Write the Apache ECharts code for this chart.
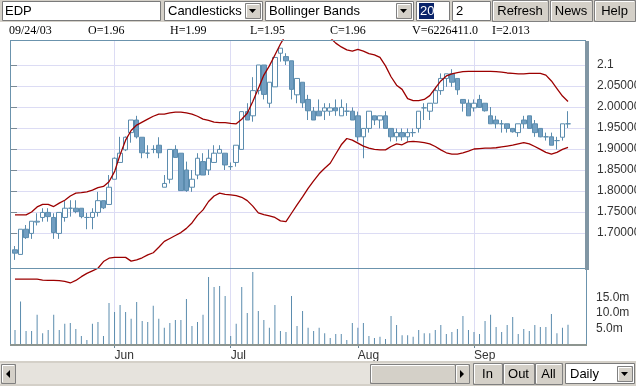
<!DOCTYPE html>
<html><head><meta charset="utf-8">
<script src="https://cdn.jsdelivr.net/npm/echarts@6/dist/echarts.min.js"></script>
<style>html,body{margin:0;padding:0;background:#fff}#c{width:636px;height:386px}</style>
</head><body><div id="c"></div>
<script>
// ---- data ----
const firstDay = '2003-05-07', lastDay = '2003-09-24';
const monthNames = ['Jan','Feb','Mar','Apr','May','Jun','Jul','Aug','Sep','Oct','Nov','Dec'];
const open = [1.660,1.649,1.709,1.699,1.726,1.737,1.749,1.737,1.699,1.737,
  1.759,1.759,1.759,1.737,1.737,1.749,1.777,1.768,1.828,1.868,
  1.898,1.939,1.969,1.928,1.890,1.899,1.909,1.809,1.828,1.899,
  1.890,1.850,1.809,1.838,1.870,1.850,1.868,1.890,1.890,1.858,
  1.868,1.899,1.989,1.979,2.039,2.100,2.009,2.048,2.128,2.120,
  2.110,2.029,2.059,2.018,1.990,1.990,1.990,1.990,1.998,1.979,
  1.990,1.990,1.979,1.929,1.949,1.979,1.969,1.979,1.949,1.929,
  1.939,1.929,1.939,1.949,1.998,1.990,2.009,2.039,2.068,2.079,
  2.068,2.018,2.009,1.998,2.018,2.009,1.979,1.969,1.960,1.960,
  1.949,1.939,1.969,1.979,1.960,1.949,1.929,1.929,1.920,1.928,
  1.960];
const high = [1.669,1.709,1.719,1.728,1.747,1.759,1.759,1.747,1.749,1.776,
  1.778,1.778,1.759,1.748,1.759,1.798,1.777,1.838,1.880,1.929,
  1.930,1.969,1.979,1.928,1.909,1.909,1.928,1.838,1.899,1.909,
  1.890,1.870,1.850,1.890,1.890,1.899,1.909,1.909,1.890,1.868,
  1.909,1.989,2.009,2.071,2.100,2.100,2.059,2.118,2.140,2.128,
  2.110,2.068,2.059,2.029,2.000,2.018,2.009,2.009,2.018,2.018,
  2.009,1.999,1.989,1.949,1.990,1.979,1.979,1.990,1.949,1.949,
  1.949,1.949,1.949,1.990,2.009,2.009,2.048,2.080,2.079,2.090,
  2.068,2.018,2.018,2.018,2.029,2.009,2.000,1.979,1.969,1.960,
  1.949,1.960,1.979,1.979,1.969,1.949,1.939,1.939,1.929,1.960,
  1.990];
const low = [1.636,1.649,1.686,1.686,1.718,1.727,1.727,1.686,1.686,1.727,
  1.739,1.747,1.735,1.709,1.709,1.739,1.757,1.768,1.828,1.868,
  1.895,1.915,1.925,1.878,1.878,1.890,1.878,1.809,1.818,1.880,
  1.801,1.798,1.798,1.828,1.838,1.838,1.868,1.890,1.850,1.850,
  1.858,1.899,1.969,1.965,2.030,2.018,1.998,2.048,2.108,2.100,
  2.018,2.009,1.998,1.969,1.969,1.979,1.969,1.979,1.979,1.979,
  1.979,1.969,1.918,1.878,1.939,1.957,1.949,1.949,1.918,1.918,
  1.920,1.918,1.929,1.939,1.969,1.969,2.009,2.029,2.048,2.048,
  2.029,1.989,1.979,1.989,1.998,1.989,1.960,1.949,1.939,1.939,
  1.939,1.929,1.949,1.949,1.929,1.928,1.920,1.909,1.899,1.920,
  1.950];
const close = [1.652,1.709,1.689,1.728,1.728,1.749,1.739,1.701,1.749,1.759,
  1.759,1.751,1.739,1.737,1.749,1.777,1.760,1.809,1.878,1.890,
  1.928,1.969,1.929,1.891,1.890,1.899,1.891,1.818,1.899,1.880,
  1.801,1.801,1.828,1.878,1.838,1.878,1.890,1.899,1.862,1.858,
  1.909,1.989,1.969,2.039,2.100,2.030,2.059,2.118,2.140,2.110,
  2.042,2.068,2.010,1.991,1.969,1.979,1.998,1.998,1.991,1.999,
  1.990,1.969,1.929,1.949,1.990,1.969,1.979,1.949,1.929,1.939,
  1.929,1.939,1.939,1.990,1.998,2.009,2.039,2.068,2.079,2.059,
  2.041,2.009,1.979,2.009,1.999,1.991,1.960,1.960,1.960,1.949,
  1.941,1.960,1.960,1.949,1.939,1.929,1.929,1.909,1.920,1.960,
  1.960];
const volumeM = [4.5,13.7,4.2,4.2,9.4,3.5,4.5,9.4,4.5,6.5,
  6.8,4.8,2.6,1.3,6.5,7.1,2.6,13.2,10.3,12.6,
  10.3,8.1,13.5,7.4,7.1,12.3,8.1,5.2,6.8,7.7,
  7.7,14.5,5.8,7.1,9.4,21.6,18.4,18.7,15.5,2.6,
  6.5,18.4,10.0,23.2,10.6,7.7,5.2,12.6,4.2,3.9,
  15.5,5.8,10.6,5.2,4.2,5.2,3.5,1.9,3.2,3.2,
  1.3,6.8,5.2,6.8,2.6,1.9,2.3,1.6,9.0,6.1,
  2.8,2.8,2.3,4.5,3.5,3.5,4.5,6.1,3.2,3.9,
  4.8,9.0,4.5,3.9,3.2,7.4,9.4,5.5,3.9,6.1,
  8.7,3.2,4.8,4.2,6.1,5.5,5.5,9.7,3.5,5.2,
  6.2];
const upperBand = [1.743,1.743,1.743,1.750,1.762,1.768,1.768,1.763,1.771,1.778,
  1.788,1.795,1.796,1.798,1.802,1.808,1.811,1.822,1.846,1.886,
  1.921,1.944,1.957,1.964,1.971,1.978,1.983,1.983,1.986,1.988,
  1.988,1.986,1.983,1.978,1.971,1.968,1.964,1.963,1.963,1.961,
  1.960,1.971,1.985,2.013,2.044,2.076,2.098,2.124,2.150,2.172,
  2.188,2.198,2.204,2.205,2.202,2.194,2.182,2.165,2.152,2.143,
  2.136,2.133,2.137,2.133,2.127,2.124,2.118,2.098,2.072,2.052,
  2.042,2.020,2.015,2.015,2.018,2.027,2.045,2.062,2.074,2.079,
  2.082,2.084,2.085,2.085,2.085,2.085,2.085,2.084,2.083,2.081,
  2.080,2.079,2.079,2.080,2.080,2.080,2.076,2.062,2.044,2.026,
  2.013];
const lowerBand = [1.590,1.590,1.590,1.590,1.590,1.588,1.587,1.587,1.5865,1.585,
  1.581,1.587,1.596,1.604,1.610,1.616,1.632,1.640,1.642,1.642,
  1.642,1.633,1.636,1.641,1.648,1.653,1.666,1.680,1.687,1.694,
  1.701,1.711,1.724,1.742,1.755,1.775,1.788,1.795,1.792,1.791,
  1.789,1.785,1.777,1.764,1.748,1.744,1.741,1.737,1.729,1.727,
  1.747,1.767,1.786,1.806,1.824,1.841,1.854,1.866,1.888,1.910,
  1.925,1.921,1.914,1.907,1.902,1.899,1.898,1.898,1.906,1.912,
  1.910,1.917,1.918,1.917,1.915,1.912,1.906,1.898,1.891,1.888,
  1.888,1.891,1.895,1.900,1.901,1.902,1.902,1.903,1.905,1.907,
  1.909,1.912,1.915,1.912,1.906,1.899,1.892,1.888,1.892,1.899,
  1.904];
const infoTexts = ['09/24/03','O=1.96','H=1.99','L=1.95','C=1.96','V=6226411.0','I=2.013'];

// ---- build ----
function weekdays(s, e) {
  const out = []; const d = new Date(s + 'T00:00:00Z'); const end = new Date(e + 'T00:00:00Z');
  while (d <= end) { const w = d.getUTCDay(); if (w !== 0 && w !== 6) out.push(d.toISOString().slice(0, 10)); d.setUTCDate(d.getUTCDate() + 1); }
  return out;
}
const dates = weekdays(firstDay, lastDay);
const isMonthStart = dates.map((d, i) => i > 0 && d.slice(5, 7) !== dates[i - 1].slice(5, 7));
const candles = dates.map((d, i) => [open[i], close[i], low[i], high[i]]);

const FRAME = '#6b93ad', BLUE = '#5b8cae', GRID = '#dcdcf4', SANS = 'Liberation Sans, Arial, sans-serif';
const els = [];
function rect(x, y, w, h, fill, stroke, z) { els.push({type: 'rect', z: z || 50, shape: {x, y, width: w, height: h}, style: {fill: fill, stroke: stroke || null, lineWidth: 1}}); }
function line(x1, y1, x2, y2, stroke, z) { els.push({type: 'line', z: z || 50, shape: {x1, y1, x2, y2}, style: {stroke, lineWidth: 1}}); }
function text(x, y, t, o) { o = o || {}; els.push({type: 'text', z: 60, x, y, style: {text: t, fill: o.fill || '#000', font: (o.size || 13) + 'px ' + (o.family || SANS), textAlign: o.align || 'left', textVerticalAlign: 'middle'}}); }
function tri(pts) { els.push({type: 'polygon', z: 60, shape: {points: pts}, style: {fill: '#000'}}); }
function button(x, y, w, h, label) { rect(x + 0.5, y + 0.5, w, h, '#d4d0c8', '#808080'); line(x + 1.5, y + 1.5, x + w - 1, y + 1.5, '#ffffff', 55); line(x + 1.5, y + 1.5, x + 1.5, y + h - 1, '#ffffff', 55); if (label) text(x + w / 2, y + h / 2 + 1, label, {align: 'center'}); }
function dropArrow(x, y) { button(x, y, 15, 15); tri([[x + 4, y + 6], [x + 11, y + 6], [x + 7.5, y + 10]]); }

// toolbar
rect(0, 0, 636, 22, '#d4d0c8');
rect(2.5, 1.5, 158, 19, '#fff', '#7a7a7a'); text(5, 11.5, 'EDP');
rect(164.5, 1.5, 98, 19, '#fff', '#7a7a7a'); text(168, 11.5, 'Candlesticks'); dropArrow(245, 3);
rect(265.5, 1.5, 148, 19, '#fff', '#7a7a7a'); text(269, 11.5, 'Bollinger Bands'); dropArrow(396, 3);
rect(416.5, 1.5, 33, 19, '#fff', '#7a7a7a'); rect(419, 3, 15, 16, '#0a246a'); text(420, 11.5, '20', {fill: '#fff'});
rect(452.5, 1.5, 38, 19, '#fff', '#7a7a7a'); text(456, 11.5, '2');
button(492, 0, 56, 21, 'Refresh'); button(550, 0, 42, 21, 'News'); button(594, 0, 41, 21, 'Help');

// info line
const infoX = [9, 88, 170, 250, 330, 412, 492];
infoTexts.forEach((t, i) => text(infoX[i], 31, t, {size: 12, family: 'Liberation Serif, Times New Roman, serif'}));

// frame
line(10.5, 40, 10.5, 346, FRAME); line(10, 40.5, 586, 40.5, FRAME); line(10, 268.5, 586, 268.5, FRAME);
rect(585, 41, 4, 229, '#8196a4'); line(586.5, 270, 586.5, 345, FRAME); rect(10, 344, 577, 2, '#8d9590');

// bottom bar
rect(0, 361, 636, 25, '#d4d0c8');
rect(0, 363, 470, 21, '#e6e3dd');
button(1, 364, 14, 19); tri([[10, 370], [10, 378], [6, 374]]);
button(370, 364, 85, 19);
button(455, 364, 14, 19); tri([[460, 370], [460, 378], [464, 374]]);
button(473, 363, 29, 21, 'In'); button(503, 363, 31, 21, 'Out'); button(535, 363, 27, 21, 'All');
rect(565.5, 363.5, 69, 20, '#fff', '#7a7a7a'); text(570, 374, 'Daily'); dropArrow(617, 366);

const chart = echarts.init(document.getElementById('c'), null, {renderer: 'canvas'});
chart.setOption({
  animation: false,
  backgroundColor: '#fff',
  grid: [
    {left: 10, top: 65, width: 576, height: 168, outerBoundsMode: 'none', containLabel: false},
    {left: 15, top: 40, width: 553, height: 305, outerBoundsMode: 'none', containLabel: false},
    {left: 15, top: 268, width: 553, height: 76, outerBoundsMode: 'none', containLabel: false}
  ],
  xAxis: [
    {gridIndex: 0, type: 'value', min: 0, max: 1, show: false},
    {gridIndex: 1, type: 'category', data: dates, boundaryGap: false,
      axisLine: {show: false}, axisTick: {show: false}, axisLabel: {show: false},
      splitLine: {show: true, interval: (i) => isMonthStart[i], lineStyle: {color: GRID, width: 1}}},
    {gridIndex: 2, type: 'category', data: dates, boundaryGap: false,
      axisLine: {show: false},
      axisTick: {show: true, interval: (i) => isMonthStart[i], length: 4, lineStyle: {color: '#6a8799'}},
      axisLabel: {interval: (i) => isMonthStart[i], formatter: (v) => monthNames[parseInt(v.slice(5, 7), 10) - 1],
        align: 'left', margin: 6, color: '#333', fontSize: 12, fontFamily: SANS},
      splitLine: {show: false}}
  ],
  yAxis: [
    {gridIndex: 0, type: 'value', min: 1.7, max: 2.1, interval: 0.05, position: 'right',
      axisLine: {show: false}, axisTick: {show: true, length: 7, lineStyle: {color: '#7a8a96'}},
      axisLabel: {margin: 11, color: '#333', fontSize: 12, fontFamily: SANS,
        formatter: (v) => v >= 2.0999 ? '2.1' : v.toFixed(5)},
      splitLine: {show: true, lineStyle: {color: GRID, width: 1}}},
    {gridIndex: 1, type: 'value', min: 1.433333, max: 2.159524, show: false, splitLine: {show: false}},
    {gridIndex: 2, type: 'value', min: 0, max: 24.5, interval: 5, position: 'right', offset: 18,
      axisLine: {show: false}, axisTick: {show: false}, splitLine: {show: false},
      axisLabel: {margin: 10, color: '#333', fontSize: 12, fontFamily: SANS,
        formatter: (v) => (v >= 4.9 && v <= 15.1) ? v.toFixed(1) + 'm' : ''}}
  ],
  series: [
    {type: 'candlestick', xAxisIndex: 1, yAxisIndex: 1, data: candles, barWidth: 5, clip: false,
      itemStyle: {color: '#ffffff', color0: '#729fc2', borderColor: BLUE, borderColor0: BLUE, borderWidth: 1}},
    {type: 'line', xAxisIndex: 1, yAxisIndex: 1, data: upperBand, symbol: 'none', clip: true,
      lineStyle: {color: '#9c0000', width: 1.3}, z: 3},
    {type: 'line', xAxisIndex: 1, yAxisIndex: 1, data: lowerBand, symbol: 'none', clip: true,
      lineStyle: {color: '#9c0000', width: 1.3}, z: 3},
    {type: 'bar', xAxisIndex: 2, yAxisIndex: 2, data: volumeM, barWidth: 1,
      itemStyle: {color: BLUE}}
  ],
  graphic: {elements: els}
});
</script></body></html>
